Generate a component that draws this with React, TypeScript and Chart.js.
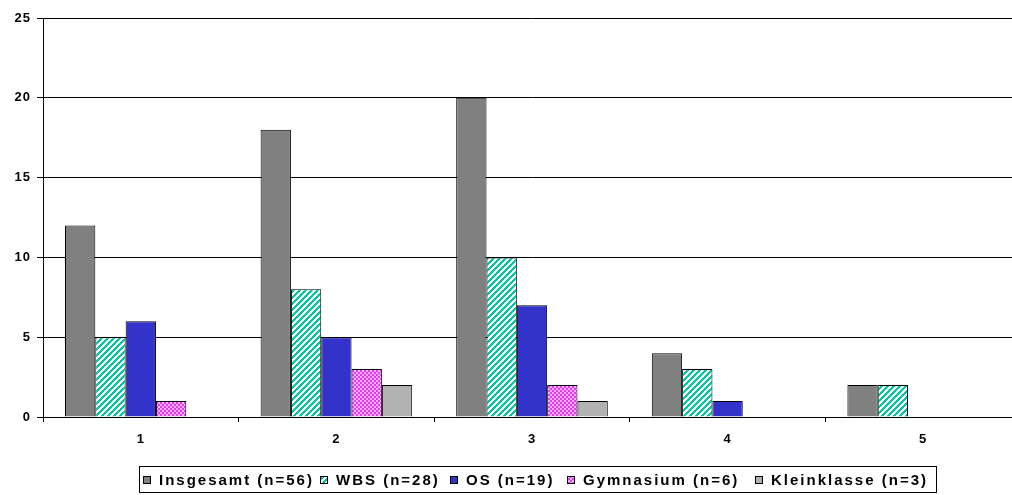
import React, { useEffect, useRef } from 'react';
import { Chart, registerables } from 'chart.js';
Chart.register(...registerables);

const categories = ['1', '2', '3', '4', '5'];
const insgesamt = [12, 18, 20, 4, 2];
const wbs = [5, 8, 10, 3, 2];
const os = [6, 5, 7, 1, 0];
const gymnasium = [1, 3, 2, 0, 0];
const kleinklasse = [0, 2, 1, 0, 0];
const seriesLabels = ['Insgesamt (n=56)', 'WBS (n=28)', 'OS (n=19)', 'Gymnasium (n=6)', 'Kleinklasse (n=3)'];
const yMin = 0;
const yMax = 25;
const yStep = 5;

function makeHatch(): CanvasPattern | string {
  const n = 6;
  const c = document.createElement('canvas');
  c.width = n; c.height = n;
  const g = c.getContext('2d');
  if (!g) return '#00C8A0';
  for (let x = 0; x < n; x++) {
    for (let y = 0; y < n; y++) {
      g.fillStyle = (x + y) % n < 3 ? '#00C8A0' : '#ffffff';
      g.fillRect(x, y, 1, 1);
    }
  }
  return g.createPattern(c, 'repeat') || '#00C8A0';
}

function makeCheck(): CanvasPattern | string {
  const n = 4;
  const c = document.createElement('canvas');
  c.width = n; c.height = n;
  const g = c.getContext('2d');
  if (!g) return '#E060F0';
  g.fillStyle = '#E838F0';
  g.fillRect(0, 0, n, n);
  g.fillStyle = '#F4B0FF';
  g.fillRect(0, 0, 2, 2);
  g.fillRect(2, 2, 2, 2);
  return g.createPattern(c, 'repeat') || '#E060F0';
}

const FONT = 'Arial, "Liberation Sans", sans-serif';

export default function App() {
  const ref = useRef<HTMLCanvasElement | null>(null);

  useEffect(() => {
    const canvas = ref.current;
    if (!canvas) return;
    const hatch = makeHatch();
    const check = makeCheck();
    const fills: (string | CanvasPattern)[] = ['#808080', hatch, '#3333CC', check, '#B2B2B2'];
    const values = [insgesamt, wbs, os, gymnasium, kleinklasse];
    const legendStarts = [143, 320, 450, 567, 755];

    const spacingPlugin = {
      id: 'spacing',
      beforeDraw(chart: any) { (chart.ctx as any).letterSpacing = '1px'; },
    };

    const legendPlugin = {
      id: 'boxLegend',
      afterDraw(chart: any) {
        const ctx = chart.ctx as CanvasRenderingContext2D;
        ctx.save();
        ctx.strokeStyle = '#000';
        ctx.lineWidth = 1;
        ctx.strokeRect(139.5, 466.5, 797, 26);
        ctx.font = 'bold 15px ' + FONT;
        (ctx as any).letterSpacing = '2px';
        ctx.textBaseline = 'middle';
        ctx.textAlign = 'left';
        const cy = 480;
        seriesLabels.forEach((lab, i) => {
          const x = legendStarts[i];
          ctx.fillStyle = fills[i] as any;
          ctx.fillRect(x, cy - 4, 8, 8);
          ctx.strokeStyle = '#000';
          ctx.strokeRect(x + 0.5, cy - 3.5, 7, 7);
          ctx.fillStyle = '#000';
          ctx.fillText(lab, x + 16, cy + 1);
        });
        ctx.restore();
        (ctx as any).letterSpacing = '0px';
      },
    };

    const chart = new Chart(canvas, {
      type: 'bar',
      data: {
        labels: categories,
        datasets: values.map((v, i) => ({
          label: seriesLabels[i],
          data: v,
          backgroundColor: fills[i] as any,
          borderColor: '#000',
          borderWidth: 1,
          categoryPercentage: 0.775,
          barPercentage: 1,
        })),
      },
      options: {
        responsive: false,
        animation: false,
        layout: { padding: { top: 18, right: 57, left: 0, bottom: 0 } },
        plugins: {
          legend: { display: false },
          tooltip: { enabled: false },
          title: { display: false },
        },
        scales: {
          x: {
            afterFit(scale: any) { scale.height = 78; },
            grid: { display: true, drawOnChartArea: false, drawTicks: true, tickLength: 5, color: '#000', offset: true },
            border: { display: true, color: '#000', width: 1 },
            ticks: { color: '#000', padding: 10, font: { family: FONT, size: 13, weight: 'bold' } },
          },
          y: {
            min: yMin,
            max: yMax,
            afterFit(scale: any) { scale.width = 43; },
            grid: { color: '#000', lineWidth: 1, tickLength: 6, drawTicks: true },
            border: { display: true, color: '#000', width: 1 },
            ticks: { stepSize: yStep, color: '#000', padding: 6, font: { family: FONT, size: 13, weight: 'bold' } },
          },
        },
      },
      plugins: [spacingPlugin, legendPlugin],
    } as any);
    return () => chart.destroy();
  }, []);

  return (
    <div style={{ position: 'fixed', left: 0, top: 0, width: 1012, height: 495, overflow: 'hidden', background: '#fff' }}>
      <canvas ref={ref} width={1078} height={495} style={{ width: 1078, height: 495, display: 'block' }} />
    </div>
  );
}
